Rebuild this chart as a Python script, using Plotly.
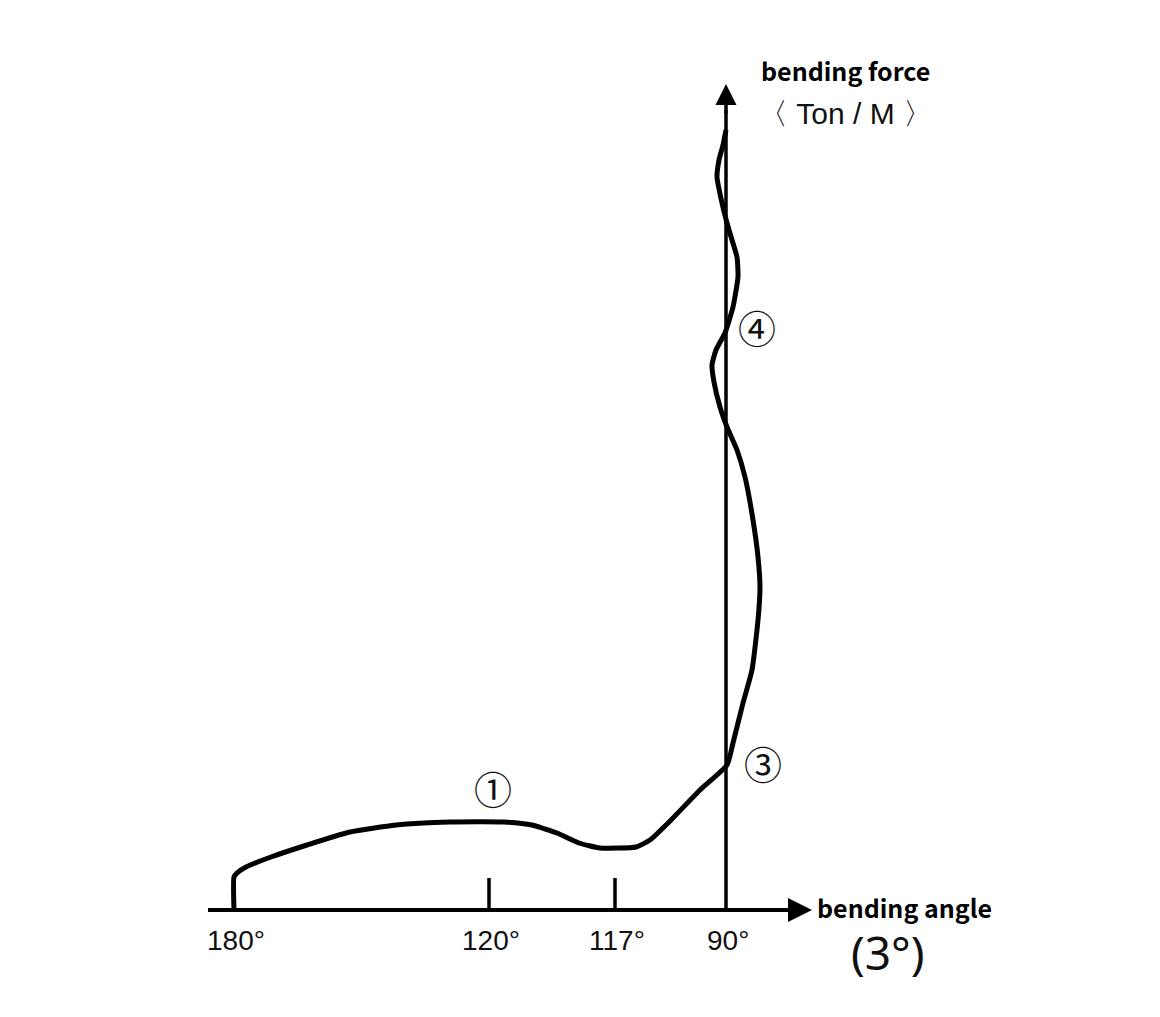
import plotly.graph_objects as go

# Tick labels along the angle axis and their sketch positions
angle_labels = ["180°", "120°", "117°", "90°"]
angle_pos = [234, 489, 615, 726]
tick_marks = [489, 615]  # short upright ticks

# Bending force curve (sketch units: x position along angle axis, y force height)
curve_x = [234, 234, 237, 246, 271, 307, 350, 396, 450, 504, 532, 557, 579, 600, 636,
           650, 671, 700, 727, 733, 743, 752, 758, 760, 758, 753, 745, 737, 727,
           720, 714, 712, 716, 725, 733, 738, 737, 732, 727, 722, 717, 719, 723, 726]
curve_y = [0, 33, 37, 43, 53, 65, 78, 85, 88, 88, 85, 77, 67, 62, 63,
           70, 90, 120, 145, 167, 207, 240, 290, 323, 353, 390, 433, 460, 483,
           503, 528, 545, 560, 577, 603, 633, 653, 670, 687, 707, 733, 750, 765, 780]

# Stage markers
stage_labels = ["①", "③", "④"]
stage_x = [493, 763, 757]
stage_y = [123, 148, 584]

fig = go.Figure()

fig.add_trace(go.Scatter(x=curve_x, y=curve_y, mode="lines",
                         line=dict(color="black", width=5, shape="spline", smoothing=0.5),
                         hoverinfo="skip", showlegend=False))

for t in tick_marks:
    fig.add_trace(go.Scatter(x=[t, t], y=[0, 32], mode="lines",
                             line=dict(color="black", width=3.5),
                             hoverinfo="skip", showlegend=False))

fig.add_trace(go.Scatter(x=[726, 726], y=[0, 800], mode="lines",
                         line=dict(color="black", width=3.5),
                         hoverinfo="skip", showlegend=False))
fig.add_trace(go.Scatter(x=[208, 790], y=[0, 0], mode="lines",
                         line=dict(color="black", width=4),
                         hoverinfo="skip", showlegend=False))

annotations = []
# arrow heads
annotations.append(dict(x=812, y=0, ax=780, ay=0, xref="x", yref="y", axref="x", ayref="y",
                        showarrow=True, arrowhead=2, arrowsize=1.2, arrowwidth=4,
                        arrowcolor="black", text=""))
annotations.append(dict(x=726, y=826, ax=726, ay=795, xref="x", yref="y", axref="x", ayref="y",
                        showarrow=True, arrowhead=2, arrowsize=1.2, arrowwidth=3.5,
                        arrowcolor="black", text=""))

for lab, p in zip(angle_labels, angle_pos):
    annotations.append(dict(x=p + 2, y=-30, xref="x", yref="y", text=lab, showarrow=False,
                            font=dict(family="Liberation Sans Narrow, Liberation Sans", size=28, color="#111")))

for lab, sx, sy in zip(stage_labels, stage_x, stage_y):
    annotations.append(dict(x=sx, y=sy, xref="x", yref="y", text=lab, showarrow=False,
                            font=dict(family="Noto Sans CJK SC", size=38, color="#111")))

annotations.append(dict(x=845, y=840, xref="x", yref="y", text="<b>bending force</b>", showarrow=False,
                        font=dict(family="Noto Sans CJK SC", size=25, color="black")))
annotations.append(dict(x=845, y=797, xref="x", yref="y", text="〈 Ton / M 〉", showarrow=False,
                        font=dict(family="Liberation Sans Narrow, Liberation Sans", size=30, color="#111")))
annotations.append(dict(x=904, y=3, xref="x", yref="y", text="<b>bending angle</b>", showarrow=False,
                        font=dict(family="Noto Sans CJK SC", size=25, color="black")))
annotations.append(dict(x=888, y=-42, xref="x", yref="y", text="(3°)", showarrow=False,
                        font=dict(family="Noto Sans", size=46, color="#111")))

fig.update_layout(
    width=1160, height=1017,
    margin=dict(l=0, r=0, t=0, b=0),
    paper_bgcolor="white", plot_bgcolor="white",
    xaxis=dict(range=[8, 1168], visible=False, fixedrange=True),
    yaxis=dict(range=[-115, 902], visible=False, fixedrange=True),
    annotations=annotations,
    showlegend=False,
)

fig.write_html("out.html")
